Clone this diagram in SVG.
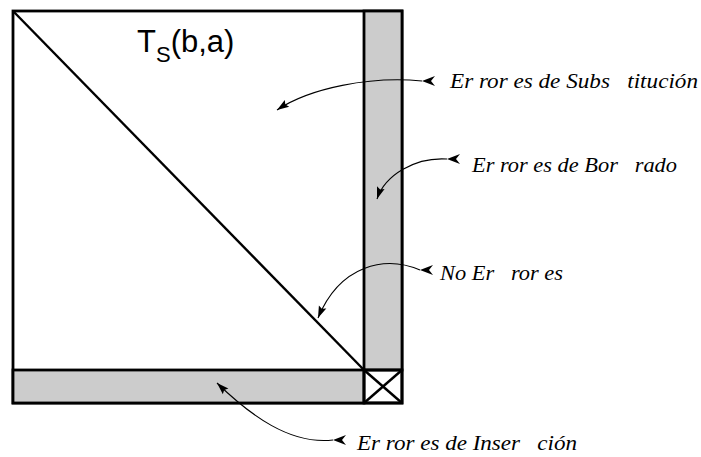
<svg xmlns="http://www.w3.org/2000/svg" width="701" height="457" viewBox="0 0 701 457">
<style>
.frame{fill:none;stroke:#000;stroke-width:2.8}
.bar{fill:#cccccc;stroke:#000;stroke-width:2.8}
.thin{fill:none;stroke:#000;stroke-width:2.4}
.conn{fill:none;stroke:#000;stroke-width:1.1}
.lbl{font-family:"Liberation Serif",serif;font-style:italic;font-size:22px;fill:#000}
.ttl{font-family:"Liberation Sans",Arial,sans-serif;fill:#000}
</style>
<defs>
<marker id="ah" markerUnits="userSpaceOnUse" markerWidth="14" markerHeight="10" refX="12" refY="4" orient="auto" overflow="visible">
<path d="M0,0 L12,4 L0,8 L2,4 z" fill="#000"/>
</marker>
</defs>
<g id="matrix">
<rect class="frame" x="13" y="11" width="389" height="392"/>
<rect class="bar" x="364" y="11" width="38" height="359"/>
<rect class="bar" x="13" y="370" width="351" height="33"/>
<rect class="frame" x="364" y="370" width="38" height="33"/>
<line class="thin" x1="13" y1="11" x2="364" y2="370"/>
<line class="thin" x1="364" y1="370" x2="402" y2="403"/>
<line class="thin" x1="402" y1="370" x2="364" y2="403"/>
</g>
<g id="title">
<text class="ttl" x="137" y="52" font-size="31">T<tspan font-size="22" dy="10">S</tspan><tspan dy="-10">(b,a)</tspan></text>
</g>
<g id="connectors">
<path class="conn" d="M422,81 C370,76 310,88 277,110" marker-end="url(#ah)"/>
<path class="conn" d="M447,159 C415,157 385,175 377,199" marker-end="url(#ah)"/>
<path class="conn" d="M420,270 C385,255 340,265 318,318" marker-end="url(#ah)"/>
<path class="conn" d="M333,440 C290,445 250,415 217,383" marker-end="url(#ah)"/>
</g>
<g id="tails">
<path d="M422,81 L435,76 L431,81 L435,86 z" fill="#000"/>
<path d="M447,159 L460,154 L456,159 L460,164 z" fill="#000"/>
<path d="M420,270 L433,265 L429,270 L433,275 z" fill="#000"/>
<path d="M333,440 L346,435 L342,440 L346,445 z" fill="#000"/>
</g>
<g id="label-sub"><text class="lbl" x="450" y="88" xml:space="preserve" textLength="248" lengthAdjust="spacingAndGlyphs">Er ror es de Subs   titución</text></g>
<g id="label-bor"><text class="lbl" x="472" y="172" xml:space="preserve" textLength="205" lengthAdjust="spacingAndGlyphs">Er ror es de Bor   rado</text></g>
<g id="label-no"><text class="lbl" x="440" y="280" xml:space="preserve" textLength="123" lengthAdjust="spacingAndGlyphs">No Er   ror es</text></g>
<g id="label-ins"><text class="lbl" x="357" y="450" xml:space="preserve" textLength="220" lengthAdjust="spacingAndGlyphs">Er ror es de Inser   ción</text></g>
</svg>
